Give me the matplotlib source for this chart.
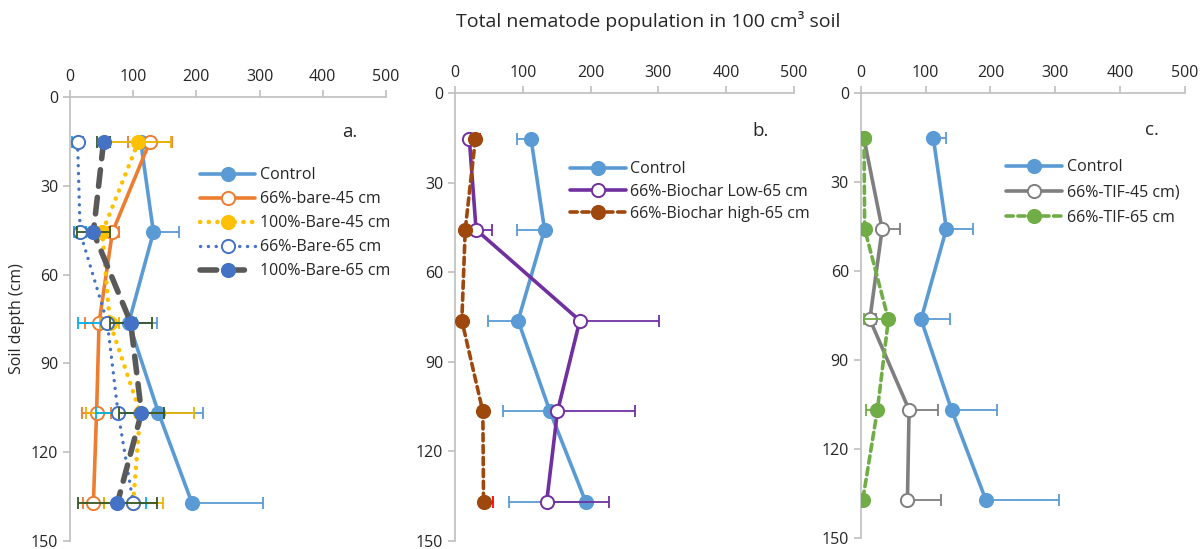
import numpy as np
import matplotlib.pyplot as plt

plt.rcParams['font.family'] = ['Open Sans', 'DejaVu Sans']

# depths are 6, 18, 30, 42, 54 inch in cm
depth = [15.24, 45.72, 76.2, 106.68, 137.16]

control = [112, 132, 93, 140, 193]
control_err = [20, 41, 44, 70, 113]

# panel a
bare66_45 = [126, 67, 46, 42, 37]
bare66_45_err = [35, 10, 22, 23, 16]
bare100_45 = [108, 51, 63, 111, 100]
bare100_45_err = [52, 12, 15, 85, 47]
bare66_65 = [12, 16, 59, 76, 100]
bare66_65_err = [9, 10, 46, 35, 20]
bare100_65 = [53, 37, 96, 113, 75]
bare100_65_err = [10, 26, 33, 35, 62]

# panel b
biochar_low = [21, 31, 184, 151, 135]
biochar_low_err = [5, 23, 117, 115, 92]
biochar_high = [30, 15, 10, 41, 42]
biochar_high_err = [7, 3, 3, 5, 14]

# panel c
tif_45 = [5, 33, 14, 74.5, 72]
tif_45_err = [3, 28, 10, 45, 52]
tif_65 = [5, 6, 42.6, 25.7, 3]
tif_65_err = [2, 2, 37, 17, 2]

x_ticks = [0, 100, 200, 300, 400, 500]
y_ticks = [0, 30, 60, 90, 120, 150]

AX_GRAY = '#BFBFBF'
TXT = '#262626'


def series(ax, x, err, label, color, ecolor, mfc, medge=None, ls='-', lw=2.6, side='both', z=3):
    err = np.asarray(err, float)
    zero = np.zeros_like(err)
    if side == 'plus':
        xerr = [zero, err]
    elif side == 'minus':
        xerr = [err, zero]
    else:
        xerr = [err, err]
    ax.errorbar(x, depth, xerr=xerr, fmt='none', ecolor=ecolor, elinewidth=1.3,
                capsize=4, capthick=1.3, zorder=z)
    if medge is None:
        medge = ecolor if mfc == 'white' else mfc
    line, = ax.plot(x, depth, color=color, lw=lw, marker='o', markersize=9.5,
                    markerfacecolor=mfc, markeredgecolor=medge,
                    markeredgewidth=1.4, label=label, zorder=z + 0.5,
                    solid_capstyle='round', dash_capstyle='round')
    if isinstance(ls, tuple):
        line.set_dashes(ls)
    else:
        line.set_linestyle(ls)
    return line


def style_axis(ax):
    ax.set_xlim(0, 500)
    ax.set_ylim(150, 0)
    ax.xaxis.tick_top()
    ax.set_xticks(x_ticks)
    ax.set_yticks(y_ticks)
    for s in ['right', 'bottom']:
        ax.spines[s].set_visible(False)
    for s in ['left', 'top']:
        ax.spines[s].set_color(AX_GRAY)
        ax.spines[s].set_linewidth(1.2)
    ax.tick_params(colors=AX_GRAY, labelcolor=TXT, labelsize=11.5, length=5, width=1.2)
    ax.set_facecolor('none')


def add_legend(ax, x, y, spacing):
    ax.legend(loc='upper left', bbox_to_anchor=(x, y), frameon=False, fontsize=11.5,
              handlelength=3.5, handletextpad=0.3, labelspacing=spacing, borderpad=0,
              borderaxespad=0, labelcolor=TXT)


fig = plt.figure(figsize=(12.01, 5.49), dpi=100)

# ---- panel a
ax1 = fig.add_axes([0.0583, 0.0146, 0.2631, 0.8087])
series(ax1, control, control_err, 'Control', '#5B9BD5', '#5B9BD5', '#5B9BD5', side='plus', z=3)
series(ax1, bare66_45, bare66_45_err, '66%-bare-45 cm', '#ED7D31', '#ED7D31', 'white', z=4)
series(ax1, bare100_45, bare100_45_err, '100%-Bare-45 cm', '#FFC000', '#E8B400', '#FFC000',
       ls=(0.05, 1.9), lw=3.2, z=5)
series(ax1, bare66_65, bare66_65_err, '66%-Bare-65 cm', '#4472C4', '#00B0F0', 'white',
       medge='#4472C4', ls=(0.05, 2.3), lw=2.4, z=6)
series(ax1, bare100_65, bare100_65_err, '100%-Bare-65 cm', '#595959', '#375623', '#4472C4',
       medge='#4472C4', ls=(3.0, 2.0), lw=4, z=7)
style_axis(ax1)
ax1.set_ylabel('Soil depth (cm)', fontsize=11.5, color=TXT, labelpad=4)
ax1.text(0.886, 0.922, 'a.', transform=ax1.transAxes, fontsize=13.5, color=TXT,
         ha='center', va='center')
add_legend(ax1, 0.41, 0.842, 0.5)

# ---- panel b
ax2 = fig.add_axes([0.3789, 0.0151, 0.2823, 0.815])
series(ax2, control, control_err, 'Control', '#5B9BD5', '#5B9BD5', '#5B9BD5', side='minus', z=3)
series(ax2, biochar_low, biochar_low_err, '66%-Biochar Low-65 cm', '#7030A0', '#7030A0', 'white',
       side='plus', z=4)
series(ax2, biochar_high, biochar_high_err, '66%-Biochar high-65 cm', '#9E480E', '#FF0000', '#9E480E',
       medge='#9E480E', ls=(2.0, 1.3), side='plus', z=5)
style_axis(ax2)
ax2.text(0.9, 0.916, 'b.', transform=ax2.transAxes, fontsize=13.5, color=TXT,
         ha='center', va='center')
add_legend(ax2, 0.338, 0.848, 0.4)

# ---- panel c
ax3 = fig.add_axes([0.7167, 0.0195, 0.27, 0.8106])
series(ax3, control, control_err, 'Control', '#5B9BD5', '#5B9BD5', '#5B9BD5', side='plus', z=3)
series(ax3, tif_45, tif_45_err, '66%-TIF-45 cm)', '#7F7F7F', '#7F7F7F', 'white', side='plus', z=4)
series(ax3, tif_65, tif_65_err, '66%-TIF-65 cm', '#70AD47', '#70AD47', '#70AD47',
       ls=(2.0, 1.3), side='minus', z=5)
style_axis(ax3)
ax3.text(0.897, 0.918, 'c.', transform=ax3.transAxes, fontsize=13.5, color=TXT,
         ha='center', va='center')
add_legend(ax3, 0.448, 0.852, 0.58)

fig.text(0.54, 0.962, 'Total nematode population in 100 cm\u00b3 soil', ha='center', va='center',
         fontsize=14, color=TXT)

fig.savefig('out.png', dpi=100)
